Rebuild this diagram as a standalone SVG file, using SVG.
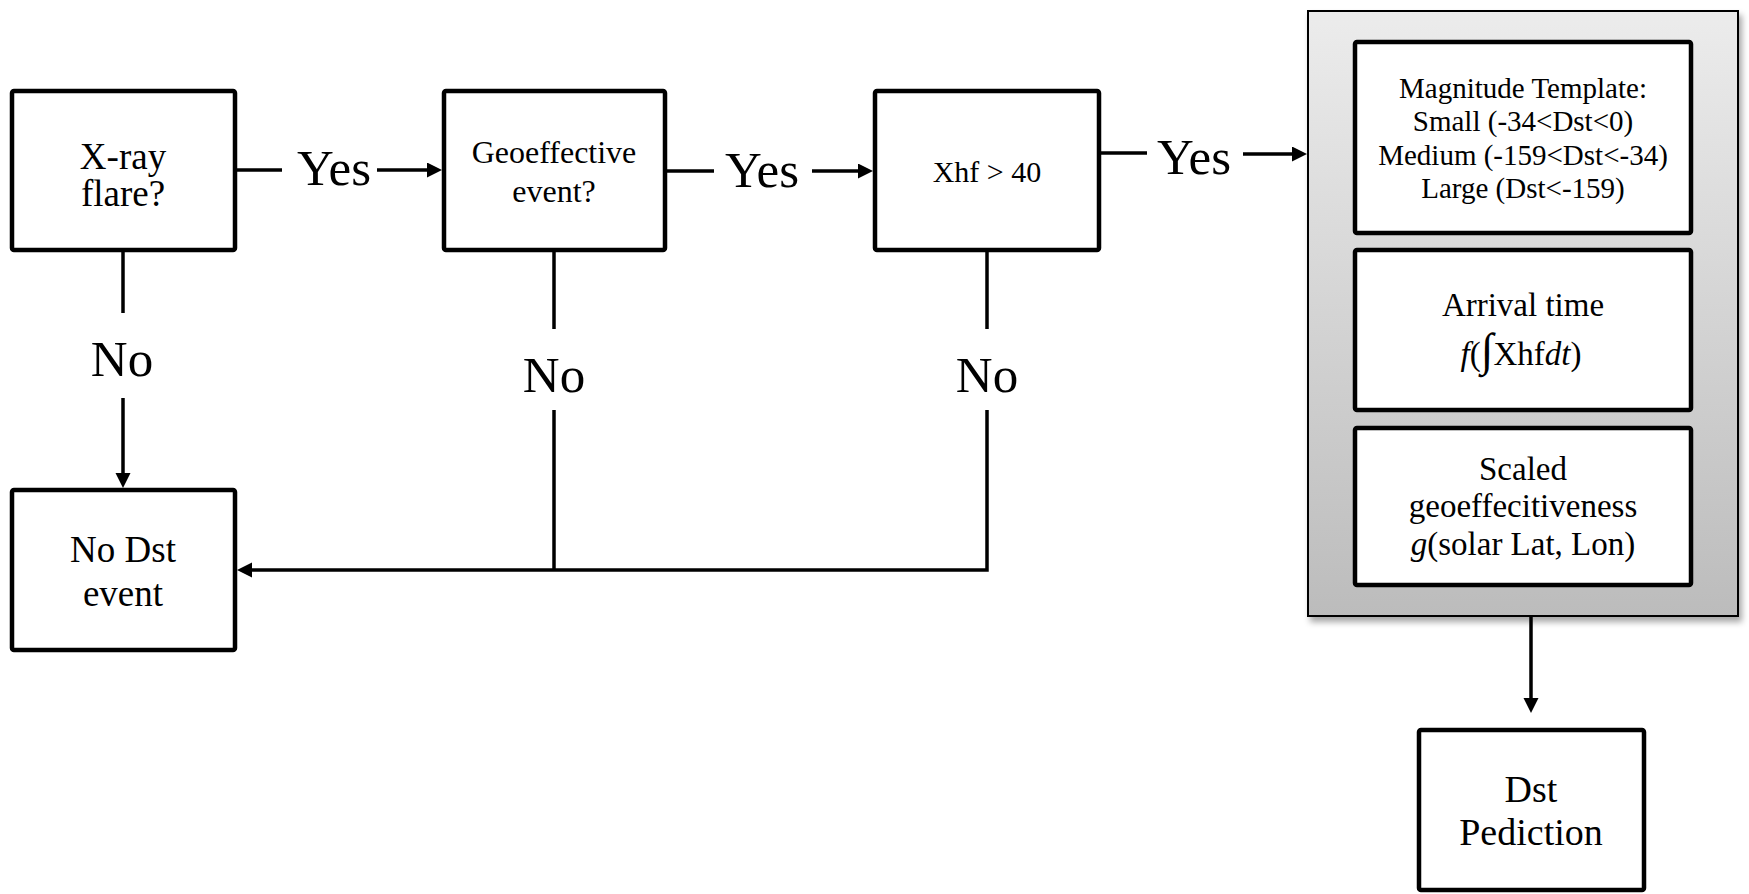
<svg xmlns="http://www.w3.org/2000/svg" width="1749" height="894" viewBox="0 0 1749 894">
<style>
.box{fill:#fff;stroke:#000;stroke-width:4.5;stroke-linejoin:round}
.ln{fill:none;stroke:#000;stroke-width:3.5}
.t{font-family:"Liberation Serif","Times New Roman",serif;fill:#000;text-anchor:middle}
.lbl{font-family:"Liberation Serif","Times New Roman",serif;fill:#000;text-anchor:middle;font-size:51px}
</style>
<defs>
<marker id="ah" markerUnits="userSpaceOnUse" markerWidth="16" markerHeight="16" refX="5" refY="7.5" orient="auto">
<path d="M0,0 L15,7.5 L0,15 Z" fill="#000"/>
</marker>
<linearGradient id="gg" x1="0" y1="0" x2="0" y2="1">
<stop offset="0" stop-color="#ececec"/>
<stop offset="1" stop-color="#bcbcbc"/>
</linearGradient>
<filter id="sh" x="-5%" y="-5%" width="115%" height="115%">
<feDropShadow dx="3" dy="5" stdDeviation="3" flood-color="#000" flood-opacity="0.35"/>
</filter>
</defs>

<g id="connectors">
<path class="ln" d="M237,170 H282"/>
<text class="lbl" x="334" y="185">Yes</text>
<path class="ln" d="M377,170 H432" marker-end="url(#ah)"/>

<path class="ln" d="M667,171 H714"/>
<text class="lbl" x="762" y="187">Yes</text>
<path class="ln" d="M812,171 H863" marker-end="url(#ah)"/>

<path class="ln" d="M1101,153 H1147"/>
<text class="lbl" x="1194" y="174">Yes</text>
<path class="ln" d="M1243,154 H1297" marker-end="url(#ah)"/>

<path class="ln" d="M123,252 V313"/>
<text class="lbl" x="122" y="376">No</text>
<path class="ln" d="M123,398 V478" marker-end="url(#ah)"/>

<path class="ln" d="M554,252 V329"/>
<text class="lbl" x="554" y="392">No</text>
<path class="ln" d="M554,410 V570"/>

<path class="ln" d="M987,252 V329"/>
<text class="lbl" x="987" y="392">No</text>
<path class="ln" d="M987,410 V570 H247" marker-end="url(#ah)"/>

<path class="ln" d="M1531,617 V703" marker-end="url(#ah)"/>
</g>

<g id="xray">
<rect class="box" x="12" y="91" width="223" height="159" rx="2"/>
<text class="t" font-size="37" x="123" y="169">X-ray</text>
<text class="t" font-size="37" x="123" y="206">flare?</text>
</g>

<g id="geoeffective">
<rect class="box" x="444" y="91" width="221" height="159" rx="2"/>
<text class="t" font-size="32" x="554" y="163">Geoeffective</text>
<text class="t" font-size="32" x="554" y="202">event?</text>
</g>

<g id="xhf">
<rect class="box" x="875" y="91" width="224" height="159" rx="2"/>
<text class="t" font-size="30" x="987" y="182">Xhf &gt; 40</text>
</g>

<g id="nodst">
<rect class="box" x="12" y="490" width="223" height="160" rx="2"/>
<text class="t" font-size="37" x="123" y="562">No Dst</text>
<text class="t" font-size="37" x="123" y="606">event</text>
</g>

<g id="model">
<rect x="1308" y="11" width="430" height="605" fill="url(#gg)" stroke="#000" stroke-width="2" filter="url(#sh)"/>
<g id="magnitude">
<rect class="box" x="1355" y="42" width="336" height="191" rx="2"/>
<text class="t" font-size="29" x="1523" y="98">Magnitude Template:</text>
<text class="t" font-size="29" x="1523" y="131">Small (-34&lt;Dst&lt;0)</text>
<text class="t" font-size="29" x="1523" y="165">Medium (-159&lt;Dst&lt;-34)</text>
<text class="t" font-size="29" x="1523" y="198">Large (Dst&lt;-159)</text>
</g>
<g id="arrival">
<rect class="box" x="1355" y="250" width="336" height="160" rx="2"/>
<text class="t" font-size="33" x="1523" y="316">Arrival time</text>
<text class="t" font-size="33" x="1521" y="365"><tspan font-style="italic">f</tspan>(<tspan font-size="46">∫</tspan>Xhf<tspan font-style="italic">dt</tspan>)</text>
</g>
<g id="scaled">
<rect class="box" x="1355" y="428" width="336" height="157" rx="2"/>
<text class="t" font-size="33" x="1523" y="480">Scaled</text>
<text class="t" font-size="33" x="1523" y="517">geoeffecitiveness</text>
<text class="t" font-size="33" x="1523" y="555"><tspan font-style="italic">g</tspan>(solar Lat, Lon)</text>
</g>
</g>

<g id="dst">
<rect class="box" x="1419" y="730" width="225" height="160" rx="2"/>
<text class="t" font-size="38" x="1531" y="802">Dst</text>
<text class="t" font-size="38" x="1531" y="845">Pediction</text>
</g>
</svg>
